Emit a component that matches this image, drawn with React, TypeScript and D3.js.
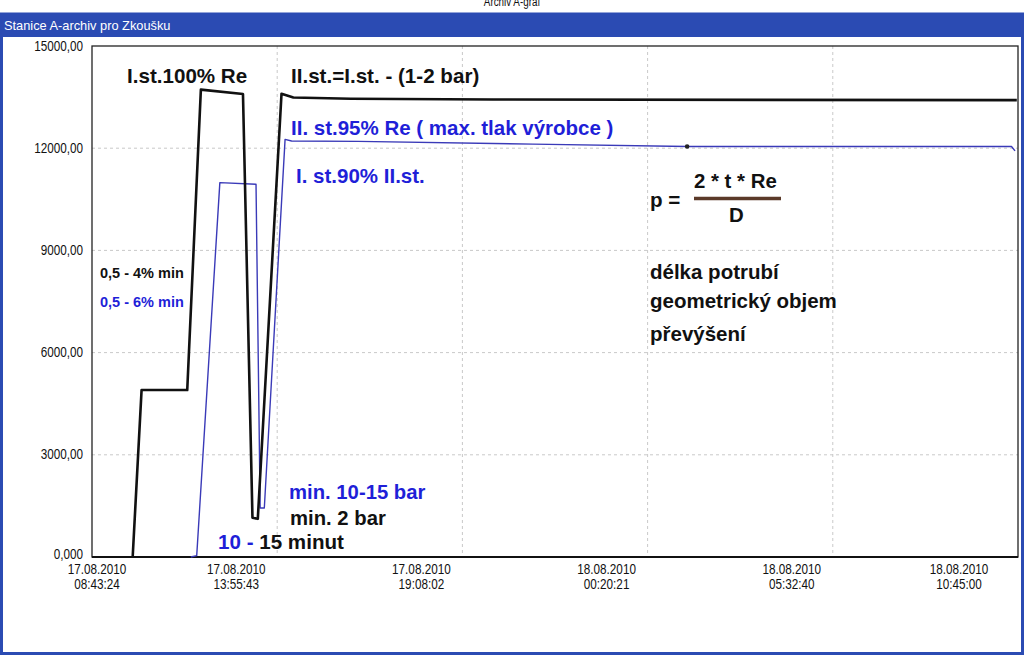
import React from "react";
import * as d3 from "d3";

// ---------- data ----------
const xTickLabels = [
  "17.08.2010 08:43:24",
  "17.08.2010 13:55:43",
  "17.08.2010 19:08:02",
  "18.08.2010 00:20:21",
  "18.08.2010 05:32:40",
  "18.08.2010 10:45:00",
];
const yTicks = [0, 3000, 6000, 9000, 12000, 15000];
const yTickLabels = ["0,000", "3000,00", "6000,00", "9000,00", "12000,00", "15000,00"];

// black trace (I.st. / II.st. pressure)
const blackTimes = [
  "17.08.2010 09:52", "17.08.2010 10:07", "17.08.2010 11:24", "17.08.2010 11:47",
  "17.08.2010 12:58", "17.08.2010 13:14", "17.08.2010 13:23", "17.08.2010 14:03",
  "17.08.2010 14:23", "17.08.2010 16:00", "17.08.2010 20:00", "18.08.2010 10:43",
];
const blackValues = [0, 4900, 4900, 13720, 13590, 1150, 1120, 13600, 13490, 13450, 13430, 13410];

// blue trace
const blueTimes = [
  "17.08.2010 11:30", "17.08.2010 11:40", "17.08.2010 12:19", "17.08.2010 13:20",
  "17.08.2010 13:27", "17.08.2010 13:34", "17.08.2010 14:09", "17.08.2010 14:20",
  "17.08.2010 16:12", "17.08.2010 21:07", "18.08.2010 01:27", "18.08.2010 08:25",
  "18.08.2010 10:34", "18.08.2010 10:40",
];
const blueValues = [0, 40, 10990, 10940, 1440, 1440, 12260, 12210, 12200, 12120, 12050, 12050, 12050, 11920];
const blueMarkerTime = "18.08.2010 01:27";
const blueMarkerValue = 12050;

// ---------- layout ----------
const W = 1024;
const H = 656;
const L = 92, R = 1018, T = 46, B = 557;
const BLUE_BAR = "#2b4bb3";
const BLUE_TEXT = "#1f1fd8";
const BLUE_LINE = "#3a3ab8";
const FONT = "'Liberation Sans', Arial, sans-serif";

const parseFull = d3.timeParse("%d.%m.%Y %H:%M:%S");
const parseShort = d3.timeParse("%d.%m.%Y %H:%M");

export default function App() {
  const tickDates = xTickLabels.map((s) => parseFull(s) as Date);
  const x = d3.scaleTime().domain([tickDates[0], tickDates[tickDates.length - 1]]).range([L, R]);
  const y = d3.scaleLinear().domain([0, 15000]).range([B, T]);

  const line = d3
    .line<[Date, number]>()
    .x((d) => x(d[0]))
    .y((d) => y(d[1]));

  const blackData: [Date, number][] = blackTimes.map((t, i) => [parseShort(t) as Date, blackValues[i]]);
  const blueData: [Date, number][] = blueTimes.map((t, i) => [parseShort(t) as Date, blueValues[i]]);

  const narrow = (px: number, py: number) => `translate(${px},${py}) scale(0.82,1)`;

  return (
    <svg
      width={W}
      height={H}
      style={{ position: "fixed", left: 0, top: 0, background: "#fff" }}
      fontFamily={FONT}
    >
      <rect x={0} y={0} width={W} height={H} fill="#fff" />
      {/* window title */}
      <text transform={narrow(512, 6)} textAnchor="middle" fontSize={12} fill="#111">
        Archiv A-graf
      </text>
      {/* window frame */}
      <rect x={1.5} y={14} width={1021} height={639.5} fill="none" stroke={BLUE_BAR} strokeWidth={3} />
      <rect x={0} y={14} width={W} height={23} fill={BLUE_BAR} />
      <text x={4} y={29.5} fontSize={12.8} fill="#fff">
        Stanice A-archiv pro Zkoušku
      </text>

      {/* grid */}
      {yTicks.slice(1, -1).map((v) => (
        <line key={"gy" + v} x1={L} x2={R} y1={y(v)} y2={y(v)} stroke="#c9c9c9" strokeDasharray="3,3" strokeWidth={1} />
      ))}
      {tickDates.slice(1, -1).map((d, i) => (
        <line key={"gx" + i} x1={x(d)} x2={x(d)} y1={T} y2={B} stroke="#c9c9c9" strokeDasharray="3,3" strokeWidth={1} />
      ))}

      {/* plot frame */}
      <rect x={L} y={T} width={R - L} height={B - T} fill="none" stroke="#222" strokeWidth={1.3} />
      <line x1={L} x2={R} y1={B} y2={B} stroke="#111" strokeWidth={2} />

      {/* y labels */}
      {yTicks.map((v, i) => (
        <text
          key={"yl" + v}
          transform={narrow(83, y(v) + (v === 0 ? 2 : 4.5))}
          textAnchor="end"
          fontSize={14.3}
          fill="#111"
        >
          {yTickLabels[i]}
        </text>
      ))}

      {/* x labels */}
      {tickDates.map((d, i) => {
        const [date, time] = xTickLabels[i].split(" ");
        const cx = Math.max(97, Math.min(959, x(d) - 41));
        return (
          <g key={"xl" + i}>
            <text transform={narrow(cx, 574)} textAnchor="middle" fontSize={14.3} fill="#111">
              {date}
            </text>
            <text transform={narrow(cx, 589)} textAnchor="middle" fontSize={14.3} fill="#111">
              {time}
            </text>
          </g>
        );
      })}

      {/* traces */}
      <path d={line(blueData) || ""} fill="none" stroke={BLUE_LINE} strokeWidth={1.4} strokeLinejoin="round" />
      <path d={line(blackData) || ""} fill="none" stroke="#111" strokeWidth={2.6} strokeLinejoin="round" />
      <circle cx={x(parseShort(blueMarkerTime) as Date)} cy={y(blueMarkerValue)} r={2.3} fill="#222" />

      {/* annotations */}
      <g fontWeight="bold" fontSize={20.6}>
        <text x={127} y={83} fill="#111">I.st.100% Re</text>
        <text x={291} y={83} fill="#111">II.st.=I.st. - (1-2 bar)</text>
        <text x={291} y={135} fill={BLUE_TEXT} fontSize={20.5}>II. st.95% Re ( max. tlak výrobce )</text>
        <text x={296} y={183} fill={BLUE_TEXT} fontSize={20.5}>I. st.90% II.st.</text>
        <text x={289} y={499} fill={BLUE_TEXT} fontSize={20.3}>min. 10-15 bar</text>
        <text x={290} y={525} fill="#111" fontSize={20.3}>min. 2 bar</text>
        <text x={218} y={549}>
          <tspan fill={BLUE_TEXT}>10 - </tspan>
          <tspan fill="#111">15 minut</tspan>
        </text>
        <text x={100} y={278} fontSize={14.5} fill="#111">0,5 - 4% min</text>
        <text x={100} y={307} fontSize={14.5} fill={BLUE_TEXT}>0,5 - 6% min</text>

        <text x={650} y={207} fill="#111">p =</text>
        <text x={694} y={188} fill="#111" fontSize={20.4}>2 * t * Re</text>
        <line x1={694} x2={781} y1={198.5} y2={198.5} stroke="#5b3a29" strokeWidth={3.5} />
        <text x={729} y={221.5} fill="#111" fontSize={20.4}>D</text>

        <text x={650} y={279} fontSize={20.5} fill="#111">délka potrubí</text>
        <text x={650} y={308} fontSize={20.5} fill="#111">geometrický objem</text>
        <text x={650} y={341} fontSize={20.5} fill="#111">převýšení</text>
      </g>
    </svg>
  );
}
